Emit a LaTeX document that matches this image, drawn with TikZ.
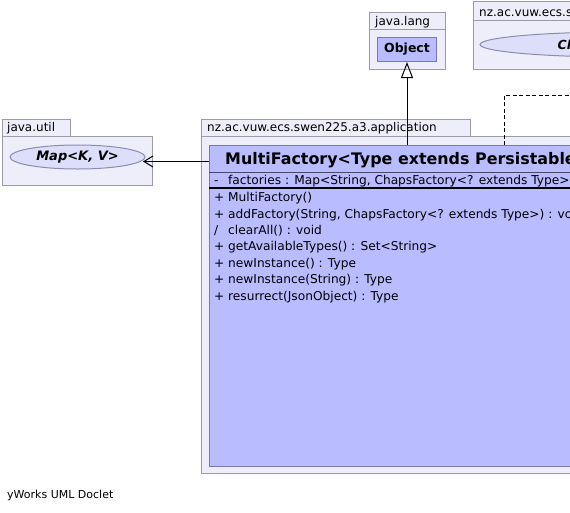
\documentclass[tikz,border=0pt]{standalone}
\usepackage{fontspec}
\setmainfont[Ligatures=NoCommon]{DejaVu Sans}
\usetikzlibrary{arrows.meta,shapes.geometric}
\definecolor{pkgfill}{RGB}{238,238,250}
\definecolor{pkgdraw}{RGB}{155,155,170}
\definecolor{clsfill}{RGB}{185,188,255}
\definecolor{clsdraw}{RGB}{120,120,180}
\definecolor{elfill}{RGB}{221,223,250}
\definecolor{eldraw}{RGB}{140,140,175}
\tikzset{
  box/.style={rectangle, inner sep=0pt, anchor=north west, line width=1pt},
  pkg/.style={box, draw=pkgdraw, fill=pkgfill},
  cls/.style={box, draw=clsdraw, fill=clsfill},
  uel/.style={ellipse, inner sep=0pt, draw=eldraw, fill=elfill, line width=1pt},
  lbl/.style={inner sep=0pt, anchor=base west, font=\fontsize{12}{14}\selectfont},
  member/.style={inner sep=0pt, anchor=base west, font=\fontsize{12.2}{14}\selectfont},
  inherit/.style={line width=1pt, -{Triangle[open, length=16pt, width=12pt]}},
  assoc/.style={line width=1pt, -{Straight Barb[length=9pt, width=11pt]}},
  realize/.style={line width=1pt, dash pattern=on 4pt off 2.5pt}
}
\newcommand{\vis}[1]{\makebox[14pt][l]{#1}}
\begin{document}
\begin{tikzpicture}[x=1pt, y=-1pt]
\useasboundingbox (0,0) rectangle (570,512);
\clip (0,0) rectangle (570,512);
\fill[white] (0,0) rectangle (570,512);

% java.lang package
\node[pkg, minimum width=76pt, minimum height=17pt] (langtab) at (369,12) {};
\node[pkg, minimum width=76pt, minimum height=40pt] (langpkg) at (369,29) {};
\node[lbl] (langlbl) at (375,25.5) {java.lang};
\node[cls, minimum width=59pt, minimum height=24pt] (obj) at (377,37) {};
\node[font=\bfseries\fontsize{12.5}{14}\selectfont, inner sep=0pt] (objlbl) at (obj.center) {Object};

% nz.ac.vuw.ecs... package (cut at the edge)
\node[pkg, minimum width=140pt, minimum height=19pt] (nztab) at (473,1) {};
\node[pkg, minimum width=140pt, minimum height=49pt] (nzpkg) at (473,20) {};
\node[lbl] (nzlbl) at (479,16) {nz.ac.vuw.ecs.swen225.a3};
\node[uel, minimum width=280pt, minimum height=25pt] (clel) at (620,44.5) {};
\node[lbl, font=\bfseries\itshape\fontsize{12.5}{14}\selectfont] (cllbl) at (557.5,49.5) {ChapsFactory};

% java.util package
\node[pkg, minimum width=68pt, minimum height=17pt] (utiltab) at (2,119) {};
\node[pkg, minimum width=150pt, minimum height=49pt] (utilpkg) at (2,136) {};
\node[lbl] (utillbl) at (7,131.5) {java.util};
\node[uel, minimum width=135pt, minimum height=24pt] (mapE) at (77.5,157) {};
\node[font=\bfseries\itshape\fontsize{13}{15}\selectfont, inner sep=0pt] (maplbl) at (mapE.center) {Map<K, V>};

% application package
\node[pkg, minimum width=269pt, minimum height=17pt] (apptab) at (201,119) {};
\node[pkg, minimum width=420pt, minimum height=337pt] (apppkg) at (201,136) {};
\node[lbl] (applbl) at (207,131.5) {nz.ac.vuw.ecs.swen225.a3.application};

% class MultiFactory
\node[cls, minimum width=400pt, minimum height=321pt] (cls) at (209,145) {};
\draw[clsdraw!60!black, line width=1pt] (209,172) -- (620,172);
\draw[black, line width=2pt] (209,187.5) -- (620,187.5);
\node[inner sep=0pt, anchor=base west, font=\bfseries\fontsize{15.9}{18}\selectfont] (title) at (225,164.5) {MultiFactory<Type extends Persistable>};
\node[member] (attr) at (214,184) {\vis{-}factories : Map<String, ChapsFactory<? extends Type>{}>};
\node[member] (m1) at (214,201.7) {\vis{+}MultiFactory()};
\node[member] (m2) at (214,218.1) {\vis{+}addFactory(String, ChapsFactory<? extends Type>) : void};
\node[member] (m3) at (214,234.5) {\vis{/}clearAll() : void};
\node[member] (m4) at (214,250.9) {\vis{+}getAvailableTypes() : Set<String>};
\node[member] (m5) at (214,267.3) {\vis{+}newInstance() : Type};
\node[member] (m6) at (214,283.7) {\vis{+}newInstance(String) : Type};
\node[member] (m7) at (214,300.1) {\vis{+}resurrect(JsonObject) : Type};

% connectors
\draw[inherit] (obj.south |- cls.north) -- (obj.south);
\coordinate (mapTip) at (143,161.5);
\draw[assoc] (cls.west |- mapTip) -- (mapTip);
\coordinate (realEnd) at (620,95);
\draw[realize] ([xshift=295pt]cls.north west) |- (realEnd);

% footer
\node[inner sep=0pt, anchor=base west, font=\fontsize{11}{13}\selectfont] (footer) at (7,498) {yWorks UML Doclet};
\end{tikzpicture}
\end{document}
